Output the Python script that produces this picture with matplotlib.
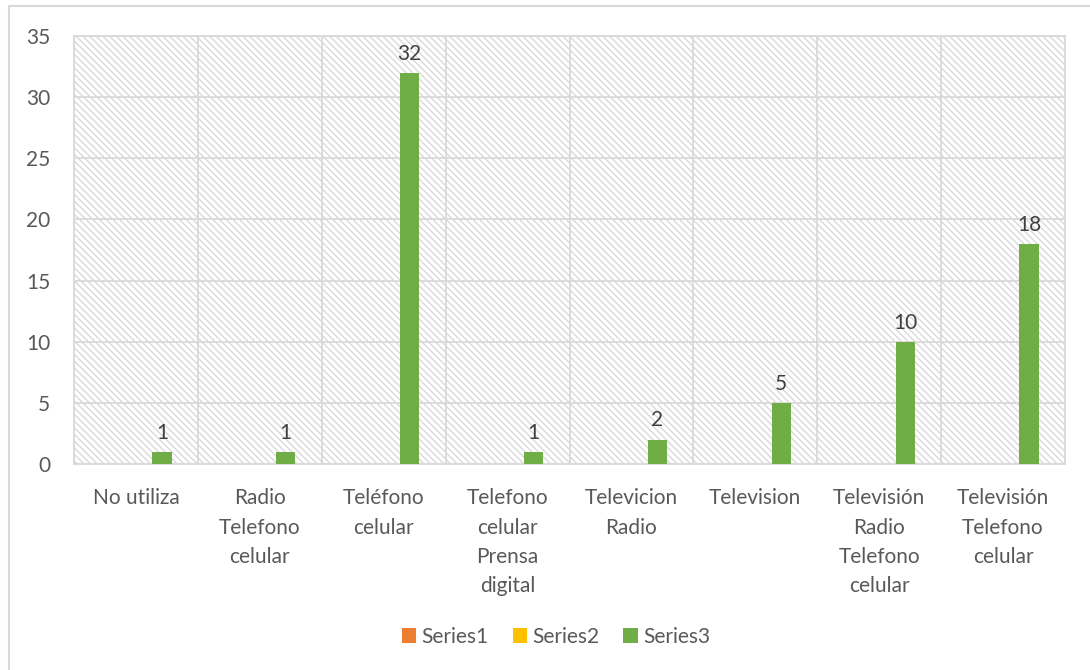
import matplotlib
matplotlib.use('Agg')
import matplotlib.pyplot as plt
import numpy as np
from matplotlib.patches import Rectangle

plt.rcParams['font.family'] = ['Lato', 'DejaVu Sans']
plt.rcParams['hatch.linewidth'] = 0.9

categories = ['No utiliza', 'Radio\nTelefono\ncelular', 'Teléfono\ncelular',
              'Telefono\ncelular\nPrensa\ndigital', 'Televicion\nRadio', 'Television',
              'Televisión\nRadio\nTelefono\ncelular', 'Televisión\nTelefono\ncelular']
series_names = ['Series1', 'Series2', 'Series3']
series1 = [0, 0, 0, 0, 0, 0, 0, 0]
series2 = [0, 0, 0, 0, 0, 0, 0, 0]
series3 = [1, 1, 32, 1, 2, 5, 10, 18]
colors = ['#ED7D31', '#FFC000', '#70AD47']
txt = '#595959'
grid_c = '#d9d9d9'

fig = plt.figure(figsize=(10.9, 6.7), dpi=100)
ax = fig.add_axes([74/1090, 1-464/670, (1065-74)/1090, (464-36)/670])

# outer chart border
fig.patches.append(Rectangle((9/1090, -0.1), 1.2, 1 - 6/670 + 0.1, transform=fig.transFigure,
                             fill=False, edgecolor=grid_c, linewidth=1.5))

# hatched plot background
ax.add_patch(Rectangle((0, 0), 1, 1, transform=ax.transAxes, facecolor='white',
                       edgecolor='#d6d6d6', hatch='\\\\\\\\\\', linewidth=0, zorder=0))

x = np.arange(len(categories))
w = 0.155
for i, vals in enumerate([series1, series2, series3]):
    bars = ax.bar(x + (i - 1) * 0.21, vals, width=w, color=colors[i], label=series_names[i], zorder=3)
    if i == 2:
        for b, v in zip(bars, vals):
            ax.text(b.get_x() + b.get_width() / 2, v + 0.75, str(v), ha='center', va='bottom',
                    fontsize=15, color='#404040', zorder=4)

ax.set_xlim(-0.5, len(categories) - 0.5)
ax.set_ylim(0, 35)
ax.set_yticks(range(0, 36, 5))
ax.set_xticks(x)
ax.set_xticklabels(categories, fontsize=15, color=txt, va='top', linespacing=1.58)
ax.set_xticks(np.arange(-0.5, len(categories), 1), minor=True)
ax.tick_params(axis='y', labelsize=15, labelcolor=txt, length=0, pad=17)
ax.tick_params(axis='x', which='both', length=0, pad=17.5)
ax.grid(axis='y', color=grid_c, linewidth=1.3, zorder=1)
ax.grid(axis='x', which='minor', color=grid_c, linewidth=1.3, zorder=1)
for s in ax.spines.values():
    s.set_color(grid_c)
    s.set_linewidth(1.3)

ax.legend(loc='center', bbox_to_anchor=(556/1090, 1 - 637/670), bbox_transform=fig.transFigure,
          ncol=3, frameon=False, fontsize=15, handlelength=0.7, handleheight=0.7,
          handletextpad=0.25, columnspacing=1.15, labelcolor=txt)

fig.savefig('out.png', dpi=100)
